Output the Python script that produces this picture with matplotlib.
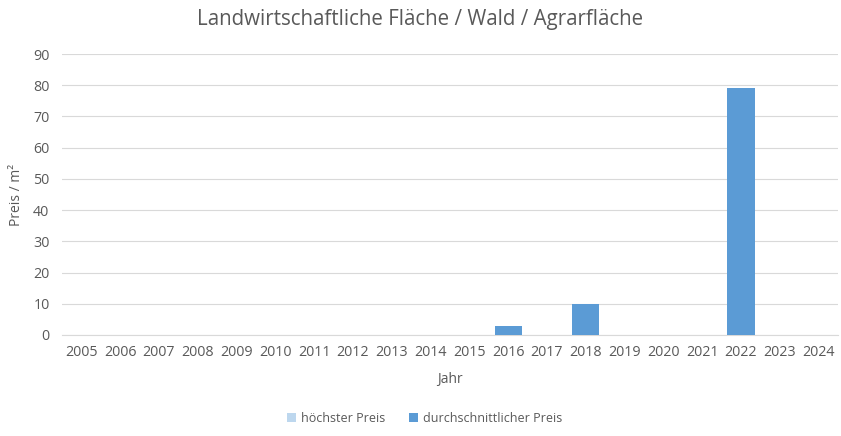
import matplotlib
matplotlib.use("Agg")
import matplotlib.pyplot as plt
import numpy as np

years = [str(y) for y in range(2005, 2025)]
hoechster = [0] * 20
durchschnitt = [0, 0, 0, 0, 0, 0, 0, 0, 0, 0, 0, 3, 0, 10, 0, 0, 0, 79, 0, 0]
yticks = [0, 10, 20, 30, 40, 50, 60, 70, 80, 90]

plt.rcParams['font.family'] = ['Open Sans', 'DejaVu Sans']
txt = '#595959'

fig = plt.figure(figsize=(8.41, 4.36), dpi=100)
ax = fig.add_axes([0.0737, 0.2317, 0.9227, 0.6443])
x = np.arange(len(years))
ax.bar(x, hoechster, width=0.7, color='#BDD7EE', label='höchster Preis', zorder=3)
ax.bar(x, durchschnitt, width=0.7, color='#5B9BD5', label='durchschnittlicher Preis', zorder=3)

ax.set_xlim(-0.5, len(years) - 0.5)
ax.set_ylim(0, 90)
ax.set_yticks(yticks)
ax.set_xticks(x)
ax.set_xticklabels(years)
ax.tick_params(axis='both', length=0, colors=txt, labelsize=10.3)
ax.tick_params(axis='y', pad=9)
ax.tick_params(axis='x', pad=7)
ax.grid(axis='y', color='#D9D9D9', linewidth=0.8, zorder=0)
for s in ['top', 'right', 'left']:
    ax.spines[s].set_visible(False)
ax.spines['bottom'].set_color('#D9D9D9')
ax.set_xlabel('Jahr', color=txt, fontsize=10, labelpad=9)
ax.set_ylabel('Preis / m²', color=txt, fontsize=10)
ax.yaxis.set_label_coords(-0.049, 0.5)
fig.suptitle('Landwirtschaftliche Fläche / Wald / Agrarfläche', color=txt, fontsize=14.8, y=0.98)
fig.legend(loc='lower center', bbox_to_anchor=(0.505, 0.0), ncol=2, frameon=False,
           fontsize=9, labelcolor=txt, handlelength=0.7, handleheight=0.7,
           columnspacing=1.9, handletextpad=0.4)
fig.savefig('out.png', dpi=100)
